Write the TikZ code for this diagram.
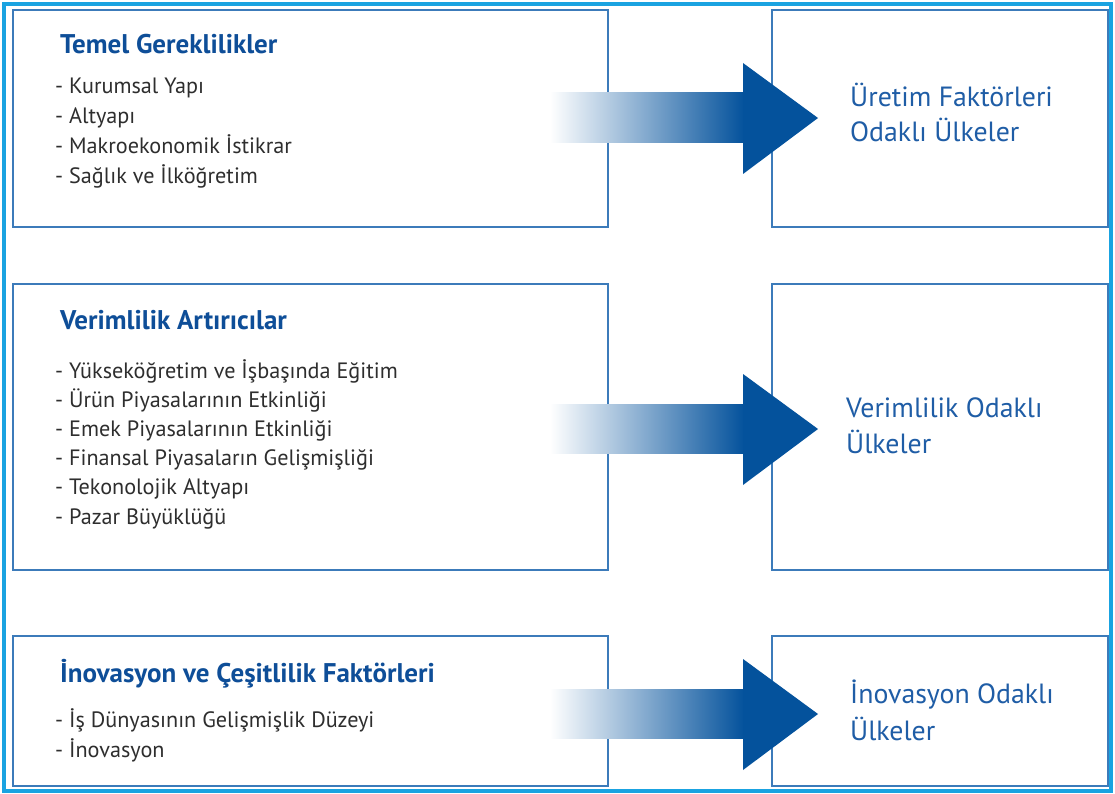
\documentclass[tikz,border=0pt]{standalone}
\usepackage{fontspec}
\setmainfont{PT Sans}
\definecolor{cyanb}{HTML}{1AA3E1}
\definecolor{boxb}{HTML}{3C7BBA}
\definecolor{arrowb}{HTML}{04529C}
\definecolor{midb}{HTML}{7E93C5}
\definecolor{titleb}{HTML}{0E4E98}
\definecolor{rightb}{HTML}{1F5DA6}
\definecolor{itemg}{HTML}{2E2E2E}
\begin{document}
\begin{tikzpicture}[x=1pt,y=-1pt,
  box/.style={draw=boxb, line width=1.3pt, inner sep=0pt, fill=white},
  ttl/.style={anchor=base west, inner sep=0pt, text=titleb, font=\fontsize{27}{31}\selectfont\bfseries},
  itm/.style={anchor=base west, inner sep=0pt, text=itemg, font=\fontsize{22.2}{26}\selectfont},
  rtx/.style={anchor=base west, inner sep=0pt, text=rightb, font=\fontsize{27.8}{32}\selectfont},
  shaft/.style={left color=white, middle color=midb, right color=arrowb},
  head/.style={fill=arrowb}]
\useasboundingbox (0,0) rectangle (1115,794);
\draw[cyanb, line width=4pt] (4,4) rectangle (1111,791);
% boxes
\node[box, minimum width=595pt, minimum height=217pt] (L1) at (310.5,118.5) {};
\node[box, minimum width=595pt, minimum height=286pt] (L2) at (310.5,427) {};
\node[box, minimum width=595pt, minimum height=150pt] (L3) at (310.5,711) {};
\node[box, minimum width=336pt, minimum height=217pt] (R1) at (940,118.5) {};
\node[box, minimum width=336pt, minimum height=286pt] (R2) at (940,427) {};
\node[box, minimum width=336pt, minimum height=150pt] (R3) at (940,711) {};
% arrows
\foreach \n/\c in {1/118, 2/429, 3/714}{
  \coordinate (s\n) at (550,\c);
  \coordinate (t\n) at (818,\c);
  \shade[shaft] (550,\c-25) rectangle (744,\c+24.5);
  \fill[head] (743,\c-55) -- (t\n) -- (743,\c+56) -- cycle;
}
% left texts
\node[ttl] (T1) at (60,54) {Temel Gereklilikler};
\foreach \t [count=\i from 0] in {Kurumsal Yapı, Altyapı, Makroekonomik İstikrar, Sağlık ve İlköğretim}
  \node[itm] (a\i) at (55,94+29.7*\i) {- \t};
\node[ttl] (T2) at (60,329) {Verimlilik Artırıcılar};
\foreach \t [count=\i from 0] in {Yükseköğretim ve İşbaşında Eğitim, Ürün Piyasalarının Etkinliği, Emek Piyasalarının Etkinliği, Finansal Piyasaların Gelişmişliği, Tekonolojik Altyapı, Pazar Büyüklüğü}
  \node[itm] (b\i) at (55,378+29.2*\i) {- \t};
\node[ttl] (T3) at (60,682) {İnovasyon ve Çeşitlilik Faktörleri};
\foreach \t [count=\i from 0] in {İş Dünyasının Gelişmişlik Düzeyi, İnovasyon}
  \node[itm] (c\i) at (55,727+30.5*\i) {- \t};
% right texts
\node[rtx] (r1a) at (850,107) {Üretim Faktörleri};
\node[rtx] (r1b) at (850,142) {Odaklı Ülkeler};
\node[rtx] (r2a) at (846,417) {Verimlilik Odaklı};
\node[rtx] (r2b) at (846,453) {Ülkeler};
\node[rtx] (r3a) at (850,703) {İnovasyon Odaklı};
\node[rtx] (r3b) at (850,740) {Ülkeler};
\end{tikzpicture}
\end{document}
